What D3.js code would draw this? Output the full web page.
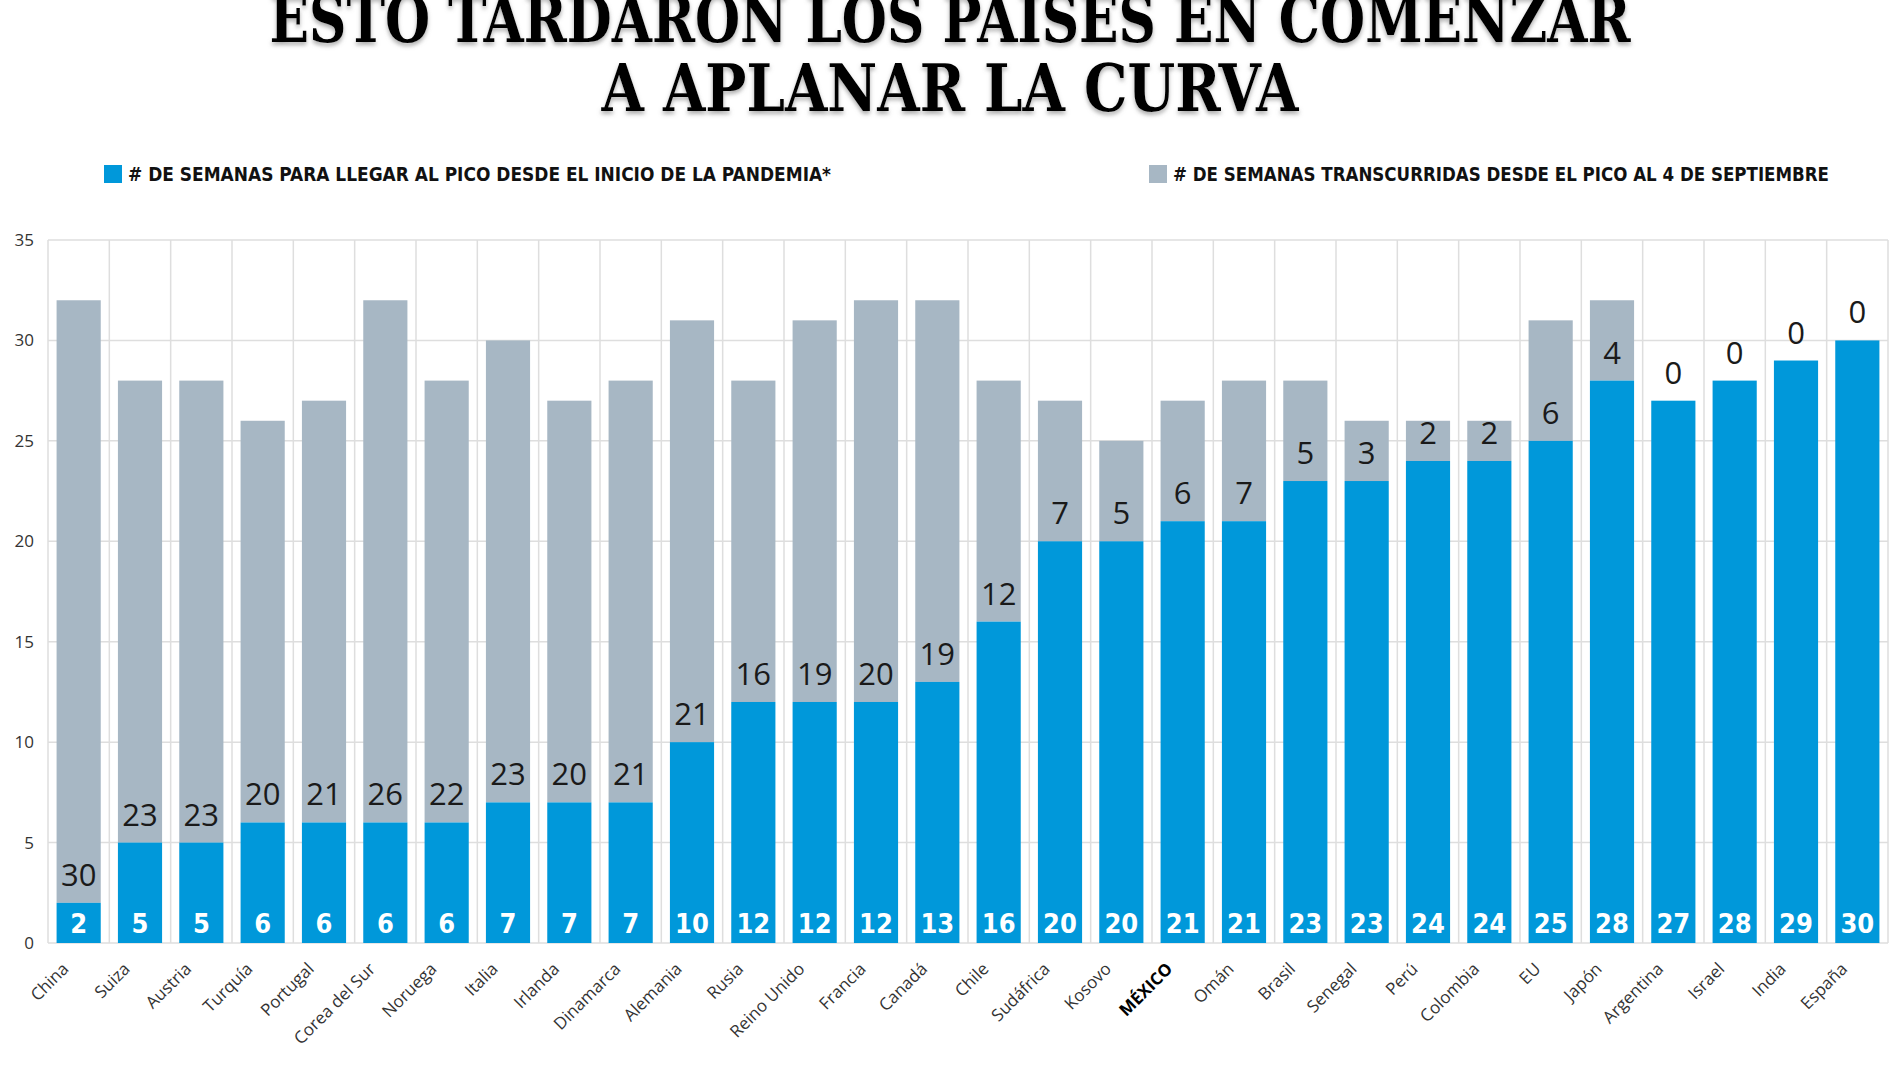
<!DOCTYPE html>
<html><head><meta charset="utf-8">
<script src="https://cdn.jsdelivr.net/npm/d3@7/dist/d3.min.js"></script>
<style>body{margin:0;background:#fff;} svg{display:block}</style>
</head><body><svg id="c" width="1900" height="1068"></svg>
<script>
const countries = ["China","Suiza","Austria","Turquía","Portugal","Corea del Sur","Noruega","Italia","Irlanda","Dinamarca","Alemania","Rusia","Reino Unido","Francia","Canadá","Chile","Sudáfrica","Kosovo","MÉXICO","Omán","Brasil","Senegal","Perú","Colombia","EU","Japón","Argentina","Israel","India","España"];
const weeksToPeak = [2,5,5,6,6,6,6,7,7,7,10,12,12,12,13,16,20,20,21,21,23,23,24,24,25,28,27,28,29,30];
const weeksSincePeak = [30,23,23,20,21,26,22,23,20,21,21,16,19,20,19,12,7,5,6,7,5,3,2,2,6,4,0,0,0,0];
const yTicks = [0,5,10,15,20,25,30,35];
const titleLines = ["ESTO TARDARON LOS PAÍSES EN COMENZAR","A APLANAR LA CURVA"];
const legendLabels = ["# DE SEMANAS PARA LLEGAR AL PICO DESDE EL INICIO DE LA PANDEMIA*","# DE SEMANAS TRANSCURRIDAS DESDE EL PICO AL 4 DE SEPTIEMBRE"];
const highlightCountry = "MÉXICO";

const BLUE = "#0098da", GRAY = "#a7b7c4", GRID = "#dedede";
const svg = d3.select("#c");

const defs = svg.append("defs");
const f = defs.append("filter").attr("id","sh").attr("x","-5%").attr("y","-20%").attr("width","110%").attr("height","150%");
f.append("feDropShadow").attr("dx",0).attr("dy",3).attr("stdDeviation",2).attr("flood-color","#777").attr("flood-opacity",0.6);

// Title
const titleGeom = [{y:42, len:1361},{y:111, len:697}];
svg.append("g").selectAll("text").data(titleLines).join("text")
  .attr("x",950).attr("y",(d,i)=>titleGeom[i].y)
  .attr("text-anchor","middle")
  .attr("textLength",(d,i)=>titleGeom[i].len).attr("lengthAdjust","spacingAndGlyphs")
  .attr("font-family","'DejaVu Serif Condensed','DejaVu Serif',serif").attr("font-weight","bold")
  .attr("font-size",66).attr("fill","#000").attr("filter","url(#sh)")
  .text(d=>d);

// Legend
const legendGeom = [{sx:104, tx:128, len:703, color:BLUE},{sx:1149, tx:1173, len:656, color:GRAY}];
const lg = svg.append("g");
lg.selectAll("rect").data(legendLabels).join("rect")
  .attr("x",(d,i)=>legendGeom[i].sx).attr("y",165).attr("width",18).attr("height",18)
  .attr("fill",(d,i)=>legendGeom[i].color);
lg.selectAll("text").data(legendLabels).join("text")
  .attr("x",(d,i)=>legendGeom[i].tx).attr("y",181)
  .attr("textLength",(d,i)=>legendGeom[i].len).attr("lengthAdjust","spacingAndGlyphs")
  .attr("font-family","'DejaVu Sans Condensed','DejaVu Sans',sans-serif").attr("font-weight","bold")
  .attr("font-size",20).attr("fill","#111")
  .text(d=>d);

// Scales
const x = d3.scaleBand().domain(countries).range([48,1888]).paddingInner(0.28).paddingOuter(0.14);
const y = d3.scaleLinear().domain([0,35]).range([943,240]);
const step = x.step();
const x0 = x.range()[0];

// Grid
const grid = svg.append("g");
grid.selectAll("line.h").data(yTicks).join("line").attr("class","h")
  .attr("x1",48).attr("x2",1888).attr("y1",d=>y(d)).attr("y2",d=>y(d))
  .attr("stroke",GRID).attr("stroke-width",1.5);
grid.selectAll("line.v").data(d3.range(countries.length+1)).join("line").attr("class","v")
  .attr("x1",i=>x0+i*step).attr("x2",i=>x0+i*step).attr("y1",y(35)).attr("y2",y(0))
  .attr("stroke",GRID).attr("stroke-width",1.5);

// Y axis labels
const yAxis = d3.axisLeft(y).tickValues(yTicks).tickSize(0).tickPadding(14);
const ya = svg.append("g").attr("transform","translate(48,0)").call(yAxis);
ya.select(".domain").remove();
ya.selectAll("text").attr("font-family","'Open Sans',sans-serif").attr("font-size",17).attr("fill","#333");

// Bars
const data = countries.map((c,i)=>({c, p:weeksToPeak[i], s:weeksSincePeak[i]}));
const bars = svg.append("g");
bars.selectAll("rect.g").data(data.filter(d=>d.s>0)).join("rect").attr("class","g")
  .attr("x",d=>x(d.c)).attr("width",x.bandwidth())
  .attr("y",d=>y(d.p+d.s)).attr("height",d=>y(d.p)-y(d.p+d.s))
  .attr("fill",GRAY);
bars.selectAll("rect.b").data(data).join("rect").attr("class","b")
  .attr("x",d=>x(d.c)).attr("width",x.bandwidth())
  .attr("y",d=>y(d.p)).attr("height",d=>y(0)-y(d.p))
  .attr("fill",BLUE);

// Labels
const lab = svg.append("g");
lab.selectAll("text.s").data(data).join("text").attr("class","s")
  .attr("x",d=>x(d.c)+x.bandwidth()/2).attr("y",d=>y(d.p)-17)
  .attr("text-anchor","middle")
  .attr("font-family","'Open Sans',sans-serif").attr("font-size",31).attr("fill","#1a1a1a")
  .text(d=>d.s);
lab.selectAll("text.p").data(data).join("text").attr("class","p")
  .attr("x",d=>x(d.c)+x.bandwidth()/2).attr("y",y(0)-10)
  .attr("text-anchor","middle")
  .attr("font-family","'DejaVu Sans Condensed','DejaVu Sans',sans-serif").attr("font-weight","bold")
  .attr("font-size",27).attr("fill","#fff")
  .text(d=>d.p);

// X labels
svg.append("g").selectAll("text").data(countries).join("text")
  .attr("transform",d=>`translate(${x(d)+x.bandwidth()/2-9},970) rotate(-45)`)
  .attr("text-anchor","end")
  .attr("font-family","'Open Sans',sans-serif").attr("font-size",17)
  .attr("font-weight",d=>d===highlightCountry?"bold":"normal")
  .attr("fill",d=>d===highlightCountry?"#000":"#333")
  .text(d=>d);
</script>
</body></html>
